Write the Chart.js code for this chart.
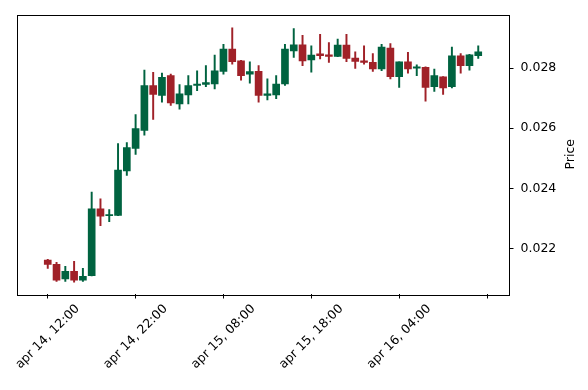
<!DOCTYPE html>
<html lang="en">
<head>
  <meta charset="utf-8">
  <title>Candles</title>
  <style>
    html, body { margin: 0; padding: 0; background: #ffffff; }
    #wrap { width: 588px; height: 390px; }
  </style>
  <script src="https://cdn.jsdelivr.net/npm/chart.js"></script>
</head>
<body>
  <div id="wrap"><canvas id="candles" width="588" height="390"></canvas></div>
  <script>
    // hourly candles
    const opens  = [0.02162,0.02148,0.02099,0.02124,0.02095,0.02110,0.02332,0.02309,0.02310,0.02458,
                    0.02533,0.02593,0.02742,0.02709,0.02775,0.02681,0.02711,0.02742,0.02746,0.02747,
                    0.02789,0.02863,0.02824,0.02780,0.02789,0.02709,0.02711,0.02747,0.02857,0.02877,
                    0.02827,0.02847,0.02844,0.02839,0.02876,0.02833,0.02824,0.02819,0.02797,0.02866,
                    0.02771,0.02821,0.02800,0.02802,0.02738,0.02771,0.02738,0.02841,0.02808,0.02841];
    const highs  = [0.02164,0.02154,0.02141,0.02158,0.02134,0.02388,0.02365,0.02330,0.02549,0.02552,
                    0.02645,0.02793,0.02786,0.02783,0.02780,0.02745,0.02775,0.02791,0.02808,0.02843,
                    0.02879,0.02934,0.02826,0.02821,0.02808,0.02764,0.02775,0.02879,0.02931,0.02909,
                    0.02874,0.02912,0.02885,0.02896,0.02912,0.02854,0.02874,0.02848,0.02879,0.02881,
                    0.02821,0.02852,0.02811,0.02804,0.02797,0.02772,0.02870,0.02848,0.02846,0.02874];
    const lows   = [0.02134,0.02091,0.02091,0.02088,0.02091,0.02109,0.02276,0.02289,0.02309,0.02443,
                    0.02513,0.02577,0.02629,0.02687,0.02676,0.02663,0.02681,0.02725,0.02738,0.02731,
                    0.02780,0.02813,0.02760,0.02750,0.02687,0.02694,0.02698,0.02742,0.02835,0.02808,
                    0.02786,0.02830,0.02819,0.02838,0.02821,0.02799,0.02813,0.02789,0.02791,0.02764,
                    0.02736,0.02783,0.02775,0.02690,0.02722,0.02712,0.02734,0.02783,0.02793,0.02832];
    const closes = [0.02147,0.02095,0.02124,0.02095,0.02108,0.02332,0.02308,0.02312,0.02461,0.02536,
                    0.02599,0.02742,0.02712,0.02769,0.02684,0.02714,0.02742,0.02747,0.02752,0.02791,
                    0.02863,0.02821,0.02775,0.02788,0.02709,0.02714,0.02747,0.02863,0.02877,0.02824,
                    0.02843,0.02841,0.02839,0.02876,0.02832,0.02822,0.02819,0.02797,0.02870,0.02771,
                    0.02821,0.02797,0.02803,0.02736,0.02775,0.02734,0.02841,0.02808,0.02844,0.02854];

    const xTickLabels = ['apr 14, 12:00', 'apr 14, 22:00', 'apr 15, 08:00', 'apr 15, 18:00', 'apr 16, 04:00', ''];
    const priceTicks = [0.022, 0.024, 0.026, 0.028];

    const UP = '#006340', DOWN = '#a02128';
    const FONT = '"DejaVu Sans", sans-serif';
    const colors = opens.map((o, i) => closes[i] >= o ? UP : DOWN);

    const bodies = opens.map((o, i) => ({x: i, y: [o, closes[i]]}));
    const wicks  = lows.map((l, i) => ({x: i, y: [l, highs[i]]}));

    // matplotlib-like frame, centred rotated x labels and the axis title
    const frame = {
      id: 'frame',
      afterDraw(chart) {
        const {ctx, chartArea: a, scales} = chart;
        ctx.save();
        ctx.strokeStyle = '#000';
        ctx.lineWidth = 1;
        ctx.strokeRect(Math.round(a.left) + 0.5, Math.round(a.top) + 0.5,
                       Math.round(a.right - a.left), Math.round(a.bottom - a.top));

        ctx.fillStyle = '#000';
        ctx.font = '12.5px ' + FONT;
        ctx.textAlign = 'center';
        ctx.textBaseline = 'middle';
        const s = Math.SQRT1_2;
        scales.x.ticks.forEach((t, k) => {
          const txt = xTickLabels[k] || '';
          if (!txt) return;
          const w = ctx.measureText(txt).width;
          const h = 14;
          const box = (w + h) * s;
          const cx = scales.x.getPixelForValue(t.value);
          const cy = a.bottom + 8 + box / 2;
          ctx.save();
          ctx.translate(cx, cy);
          ctx.rotate(-Math.PI / 4);
          ctx.fillText(txt, 0, 0);
          ctx.restore();
        });

        ctx.save();
        ctx.translate(571, (a.top + a.bottom) / 2);
        ctx.rotate(-Math.PI / 2);
        ctx.fillText('Price', 0, 0);
        ctx.restore();
        ctx.restore();
      }
    };

    new Chart(document.getElementById('candles'), {
      type: 'bar',
      data: {
        datasets: [
          {label: 'body', data: bodies, backgroundColor: colors, borderWidth: 0,
           barThickness: 7, grouped: false, minBarLength: 1.2},
          {label: 'wick', data: wicks, backgroundColor: colors, borderWidth: 0,
           barThickness: 1.3, grouped: false}
        ]
      },
      options: {
        responsive: false,
        animation: false,
        layout: {padding: {top: 10, left: 17, right: 0, bottom: 0}},
        plugins: {legend: {display: false}, tooltip: {enabled: false}},
        scales: {
          x: {
            type: 'linear',
            min: -3.5, max: 52.5,
            offset: false,
            grid: {offset: false, drawOnChartArea: false, drawTicks: true, tickLength: 4.5, color: '#000'},
            border: {display: false},
            ticks: {stepSize: 10, includeBounds: false, display: false},
            afterFit(scale) { scale.height = 96; }
          },
          y: {
            position: 'right',
            min: 0.02049, max: 0.02978,
            beginAtZero: false,
            grid: {drawOnChartArea: false, drawTicks: true, tickLength: 4.5, color: '#000'},
            border: {display: false},
            ticks: {
              stepSize: 0.002, includeBounds: false, padding: 7, color: '#000',
              font: {family: FONT, size: 12.5},
              callback: v => priceTicks.some(p => Math.abs(p - v) < 1e-9) ? v.toFixed(3) : ''
            },
            afterFit(scale) { scale.width = 79; }
          }
        }
      },
      plugins: [frame]
    });
  </script>
</body>
</html>
